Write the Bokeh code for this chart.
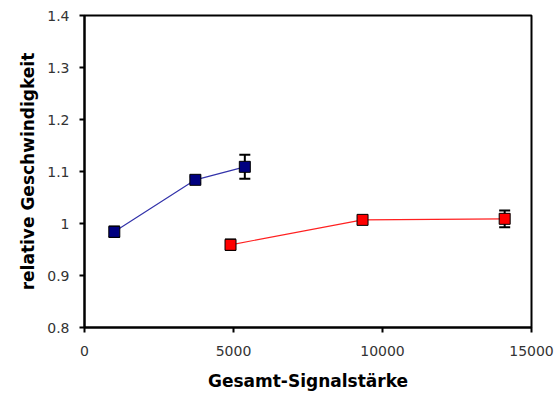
from bokeh.plotting import figure
from bokeh.models import ColumnDataSource, Whisker, FixedTicker, Range1d
from bokeh.embed import file_html
from bokeh.resources import INLINE

# Data
blue_x = [1000, 3720, 5380]
blue_y = [0.984, 1.084, 1.109]
blue_err = [0.010, 0.006, 0.023]

red_x = [4900, 9330, 14100]
red_y = [0.959, 1.007, 1.009]
red_err = [0.010, 0.004, 0.016]

x_ticks = [0, 5000, 10000, 15000]
y_ticks = [0.8, 0.9, 1.0, 1.1, 1.2, 1.3, 1.4]
y_labels = ["0.8", "0.9", "1", "1.1", "1.2", "1.3", "1.4"]

x_title = "Gesamt-Signalstärke"
y_title = "relative Geschwindigkeit"

p = figure(width=558, height=397, output_backend="svg", toolbar_location=None,
           x_range=Range1d(0, 15000), y_range=Range1d(0.8, 1.4),
           min_border_left=84, min_border_right=27, min_border_top=15, min_border_bottom=70)

p.background_fill_color = "white"
p.border_fill_color = "white"
p.outline_line_color = "black"
p.outline_line_width = 2
p.xgrid.visible = False
p.ygrid.visible = False

for ax in (p.xaxis, p.yaxis):
    ax.axis_line_width = 2
    ax.axis_line_color = "black"
    ax.major_tick_line_width = 2
    ax.major_tick_line_color = "black"
    ax.major_tick_out = 5
    ax.major_tick_in = 0
    ax.minor_tick_line_color = None
    ax.major_label_text_font = "DejaVu Sans"
    ax.major_label_text_font_size = "14px"
    ax.major_label_text_color = "#333333"
    ax.axis_label_text_font = "DejaVu Sans"
    ax.axis_label_text_font_style = "bold"
    ax.axis_label_text_font_size = "17px"
    ax.axis_label_text_color = "black"

p.xaxis.ticker = FixedTicker(ticks=x_ticks)
p.yaxis.ticker = FixedTicker(ticks=y_ticks)
p.yaxis.major_label_overrides = {t: l for t, l in zip(y_ticks, y_labels)}
p.xaxis.major_label_overrides = {t: str(t) for t in x_ticks}
p.xaxis.major_label_standoff = 13
p.yaxis.major_label_standoff = 10
p.xaxis.axis_label = x_title
p.yaxis.axis_label = y_title
p.xaxis.axis_label_standoff = 12
p.yaxis.axis_label_standoff = 6

blue_src = ColumnDataSource(dict(x=blue_x, y=blue_y,
                                 lo=[y - e for y, e in zip(blue_y, blue_err)],
                                 hi=[y + e for y, e in zip(blue_y, blue_err)]))
red_src = ColumnDataSource(dict(x=red_x, y=red_y,
                                lo=[y - e for y, e in zip(red_y, red_err)],
                                hi=[y + e for y, e in zip(red_y, red_err)]))

p.line("x", "y", source=blue_src, line_color="#3333aa", line_width=1.2)
p.line("x", "y", source=red_src, line_color="#ff2020", line_width=1.2)

for src in (blue_src, red_src):
    w = Whisker(source=src, base="x", lower="lo", upper="hi",
                line_color="black", line_width=2)
    w.upper_head.size = 11
    w.lower_head.size = 11
    w.upper_head.line_width = 2
    w.lower_head.line_width = 2
    p.add_layout(w)

p.scatter("x", "y", source=blue_src, marker="square", size=11,
          fill_color="#000080", line_color="black", line_width=1)
p.scatter("x", "y", source=red_src, marker="square", size=11,
          fill_color="#ff0000", line_color="black", line_width=1)

open("out.html", "w").write(file_html(p, INLINE))
